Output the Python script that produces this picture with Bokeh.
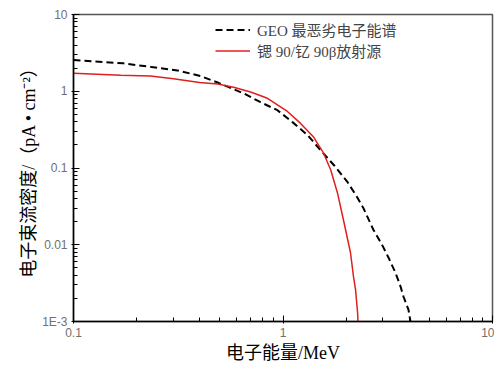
from bokeh.plotting import figure
from bokeh.models import FixedTicker, CustomJSTickFormatter, Legend, LegendItem
from bokeh.embed import file_html
from bokeh.resources import INLINE

# GEO worst-case electron spectrum (dashed black)
geo_energy = [0.1, 0.173, 0.241, 0.313, 0.404, 0.487, 0.648, 0.781, 0.94, 1.11, 1.31, 1.54,
              1.76, 2.03, 2.27, 2.42, 2.70, 2.98, 3.19, 3.44, 3.64, 3.76, 3.97, 4.06]
geo_flux = [2.55, 2.31, 2.05, 1.87, 1.58, 1.30, 0.94, 0.72, 0.567, 0.396, 0.268, 0.161,
            0.107, 0.0658, 0.0408, 0.030, 0.0157, 0.0098, 0.00678, 0.00433, 0.00285, 0.00211, 0.00143, 0.001]

# Sr-90 / Y-90 beta source (red)
src_energy = [0.1, 0.168, 0.233, 0.30, 0.40, 0.487, 0.581, 0.70, 0.843, 1.05, 1.21, 1.40, 1.56,
              1.69, 1.82, 1.94, 2.10, 2.17, 2.22, 2.27, 2.28]
src_flux = [1.71, 1.62, 1.58, 1.45, 1.30, 1.24, 1.13, 0.98, 0.81, 0.545, 0.384, 0.253, 0.157,
            0.094, 0.0473, 0.0215, 0.00787, 0.00384, 0.0026, 0.0013, 0.001]

x_major = [0.1, 1, 10]
y_major = [0.001, 0.01, 0.1, 1, 10]
series_names = ["GEO 最恶劣电子能谱", "锶 90/钇 90β放射源"]

SERIF = "'Liberation Serif', 'Noto Sans CJK SC'"
SANS = "'Liberation Sans', Arial"

p = figure(width=494, height=369, x_axis_type="log", y_axis_type="log",
           x_range=(0.1, 10), y_range=(0.001, 10),
           output_backend="svg", toolbar_location=None,
           min_border_left=73, min_border_right=2, min_border_top=14, min_border_bottom=48)

r_geo = p.line(geo_energy, geo_flux, line_color="black", line_width=2, line_dash="7 4")
r_src = p.line(src_energy, src_flux, line_color="#e0201c", line_width=1.5)

p.grid.visible = False
p.outline_line_color = "#555555"
p.outline_line_width = 1.5
p.background_fill_color = "white"
p.border_fill_color = "white"

minor_x = [m * d for d in [0.1, 1] for m in range(2, 10)]
minor_y = [m * d for d in [0.001, 0.01, 0.1, 1] for m in range(2, 10)]
p.xaxis.ticker = FixedTicker(ticks=x_major, minor_ticks=minor_x)
p.yaxis.ticker = FixedTicker(ticks=y_major, minor_ticks=minor_y)

fmt_code = """
if (tick < 0.005) { return "1E-3"; }
if (tick < 0.05) { return "0.01"; }
if (tick < 0.5) { return "0.1"; }
if (tick < 5) { return "1"; }
return "10";
"""
p.xaxis.formatter = CustomJSTickFormatter(code=fmt_code)
p.yaxis.formatter = CustomJSTickFormatter(code=fmt_code)

for ax in (p.xaxis, p.yaxis):
    ax.axis_line_color = "black"
    ax.axis_line_width = 1.5
    ax.major_tick_in = 6
    ax.major_tick_out = 2
    ax.minor_tick_in = 4
    ax.minor_tick_out = 0
    ax.major_tick_line_color = "black"
    ax.minor_tick_line_color = "black"
    ax.major_label_text_font = SANS
    ax.major_label_text_font_size = "12px"
    ax.major_label_text_color = "#707070"
    ax.axis_label_text_font = SERIF
    ax.axis_label_text_font_style = "normal"
    ax.axis_label_text_color = "black"

p.xaxis.axis_label = "电子能量/MeV"
p.xaxis.axis_label_text_font_size = "18px"
p.xaxis.major_label_standoff = 4
p.xaxis.axis_label_standoff = 3
p.yaxis.axis_label = "电子束流密度/（pA • cm⁻²）"
p.yaxis.axis_label_text_font_size = "18px"
p.yaxis.major_label_standoff = 4
p.yaxis.axis_label_standoff = 0


def make_legend(item, loc):
    lg = Legend(items=[item], location=loc)
    lg.border_line_color = None
    lg.background_fill_alpha = 0
    lg.label_text_font = SERIF
    lg.label_text_font_size = "15px"
    lg.glyph_width = 35
    lg.glyph_height = 17
    lg.label_height = 17
    lg.spacing = 0
    lg.padding = 0
    lg.margin = 0
    lg.label_standoff = 7
    return lg


p.add_layout(make_legend(LegendItem(label=series_names[0], renderers=[r_geo]), (142, 281)), "center")
p.add_layout(make_legend(LegendItem(label=series_names[1], renderers=[r_src]), (142, 260)), "center")

open("out.html", "w").write(file_html(p, INLINE))
